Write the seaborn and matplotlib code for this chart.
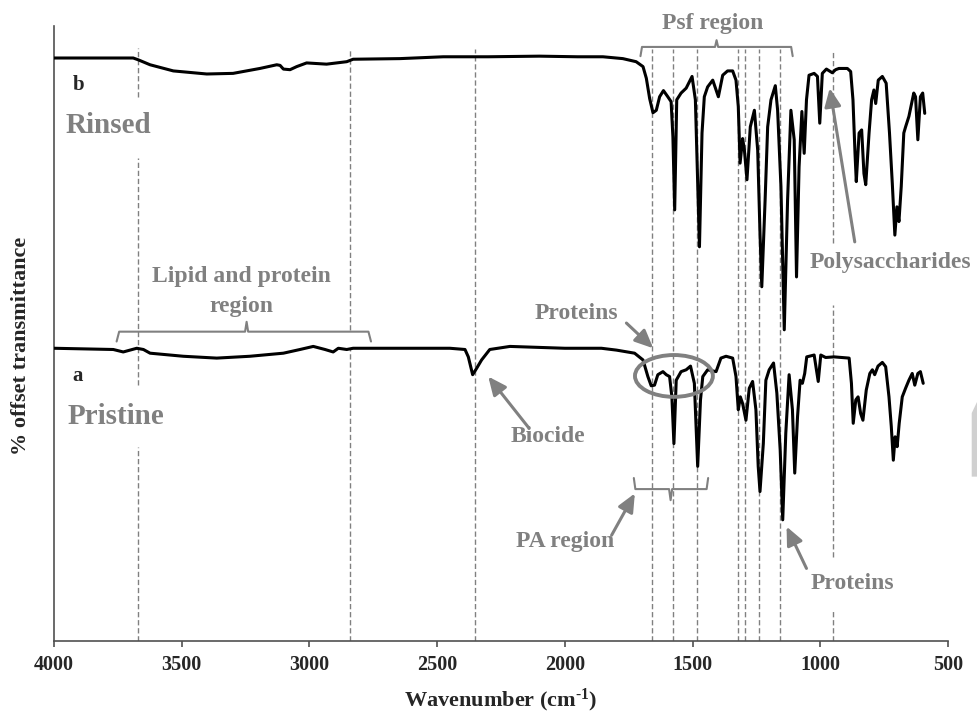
import numpy as np
import pandas as pd
import seaborn as sns
import matplotlib.pyplot as plt
from matplotlib.patches import Ellipse, Polygon

# spectrum b (rinsed membrane), offset transmittance
wn_b = [4000, 3800, 3690, 3670, 3624, 3533, 3402, 3299, 3194, 3128, 3115, 3102, 3076, 3050, 3011,
        2933, 2854, 2829, 2646, 2476, 2300, 2100, 1950, 1851, 1773, 1721, 1694, 1681, 1668,
        1655, 1642, 1629, 1614, 1597, 1584, 1577, 1570, 1562, 1545, 1525, 1502, 1489, 1473,
        1463, 1454, 1441, 1421, 1399, 1382, 1363, 1343, 1330, 1321, 1314, 1304, 1297, 1287,
        1274, 1258, 1245, 1236, 1229, 1216, 1206, 1193, 1176, 1167, 1154, 1141, 1128, 1115,
        1102, 1093, 1083, 1072, 1063, 1054, 1044, 1024, 1011, 1002, 992, 976, 953, 940, 927,
        894, 881, 872, 864, 859, 848, 838, 829, 822, 809, 799, 790, 783, 773, 757, 742, 729,
        718, 708, 700, 692, 683, 673, 666, 653, 634, 627, 618, 608, 599, 591]
t_b = [94.8, 94.8, 94.8, 94.5, 93.7, 92.7, 92.2, 92.3, 93.1, 93.7, 93.6, 93.0, 92.9, 93.4, 94.0,
       93.8, 94.2, 94.6, 94.7, 95.0, 95.0, 95.1, 95.0, 95.0, 94.7, 94.2, 93.4, 91.5, 88.2,
       85.9, 86.3, 88.5, 89.5, 88.5, 87.7, 82.0, 70.1, 88.0, 89.1, 89.9, 91.8, 88.0, 64.1,
       82.6, 88.5, 90.1, 91.2, 88.5, 92.0, 92.7, 92.7, 91.2, 86.9, 77.7, 81.7, 79.8, 75.0,
       83.6, 86.3, 79.8, 66.3, 57.6, 71.7, 83.6, 88.0, 90.3, 86.3, 73.9, 50.6, 71.7, 86.3,
       81.5, 59.2, 77.1, 86.1, 79.3, 88.0, 92.0, 92.3, 91.8, 84.2, 92.3, 93.0, 92.4, 92.9, 93.1,
       93.1, 92.6, 88.0, 79.3, 74.7, 82.6, 83.1, 76.0, 74.2, 82.6, 88.0, 89.6, 87.4, 91.2, 91.8,
       90.7, 82.6, 74.4, 66.0, 70.6, 68.2, 73.9, 82.6, 83.6, 85.3, 89.1, 88.5, 81.5, 88.5,
       89.1, 85.8]

# spectrum a (pristine membrane)
wn_a = [4000, 3768, 3729, 3676, 3650, 3624, 3494, 3363, 3233, 3102, 3037, 2985, 2939, 2907,
        2887, 2854, 2829, 2450, 2391, 2378, 2361, 2346, 2326, 2294, 2215, 2000, 1857, 1798,
        1727, 1694, 1675, 1662, 1649, 1636, 1616, 1603, 1590, 1581, 1573, 1564, 1545, 1525,
        1508, 1493, 1480, 1469, 1460, 1441, 1408, 1389, 1369, 1343, 1330, 1321, 1313, 1304,
        1291, 1278, 1265, 1252, 1243, 1236, 1223, 1213, 1200, 1183, 1170, 1157, 1147, 1135,
        1122, 1109, 1100, 1089, 1079, 1070, 1061, 1053, 1024, 1008, 998, 979, 946, 887, 878,
        871, 861, 852, 842, 833, 820, 806, 796, 787, 774, 757, 744, 731, 722, 714, 707, 699,
        691, 679, 666, 653, 640, 630, 618, 608, 597]
t_a = [47.6, 47.4, 47.0, 47.6, 47.4, 46.8, 46.3, 46.0, 46.3, 46.8, 47.4, 47.9, 47.4, 47.0,
       47.6, 47.4, 47.6, 47.6, 47.4, 46.2, 43.3, 44.3, 45.7, 47.4, 47.9, 47.6, 47.6, 47.3,
       46.8, 45.7, 43.0, 41.5, 41.6, 43.3, 43.8, 43.3, 43.0, 39.7, 32.1, 42.4, 43.8, 44.1,
       44.7, 41.9, 28.4, 39.2, 43.0, 44.1, 43.8, 46.0, 46.3, 46.0, 43.0, 37.6, 39.7, 38.6,
       35.9, 41.1, 42.2, 37.6, 28.4, 24.3, 32.1, 42.4, 44.1, 45.2, 40.3, 31.1, 19.7, 33.8,
       43.3, 37.6, 27.3, 36.5, 42.4, 41.9, 43.5, 46.2, 46.5, 42.2, 46.5, 46.1, 46.2, 46.0, 41.9,
       35.4, 39.2, 39.7, 37.0, 35.9, 40.8, 43.5, 44.1, 43.3, 44.7, 45.3, 44.6, 39.7, 34.9, 29.4,
       33.2, 31.6, 35.4, 39.7, 41.1, 42.4, 43.5, 41.6, 43.5, 43.8, 41.9]

# marked band positions (cm-1)
band_positions = [3670, 2840, 2350, 1658, 1576, 1482, 1324, 1294, 1241, 1159, 950]
x_ticks = [4000, 3500, 3000, 2500, 2000, 1500, 1000, 500]

sns.set_style('ticks')
plt.rcParams['font.family'] = ['Liberation Serif', 'DejaVu Serif']
plt.rcParams['font.weight'] = 'bold'
plt.rcParams['mathtext.fontset'] = 'custom'
plt.rcParams['mathtext.rm'] = 'Liberation Serif:bold'
plt.rcParams['mathtext.bf'] = 'Liberation Serif:bold'
plt.rcParams['mathtext.it'] = 'Liberation Serif:bold'
plt.rcParams['lines.scale_dashes'] = False

gray = '#808080'

fig = plt.figure(figsize=(9.77, 7.13), dpi=100)
ax = fig.add_axes([0.0553, 0.101, 0.915, 0.8625])

df = pd.concat([
    pd.DataFrame({'wn': wn_b, 't': t_b, 'sample': 'Rinsed'}),
    pd.DataFrame({'wn': wn_a, 't': t_a, 'sample': 'Pristine'}),
])

# dashed guide lines (with gaps where labels sit)
segments = {3670: [(88.5, 96.4), (41.6, 78.5), (0, 31.6)],
            2840: [(50.6, 96.3), (0, 47.6)],
            950: [(64.7, 95.8), (13.7, 54.6), (0, 5.0)]}
for b in band_positions:
    for y0, y1 in segments.get(b, [(0, 96.2)]):
        ax.plot([b, b], [y0, y1], color=gray, lw=1, ls=(0, (3.8, 2.0)), zorder=1)

sns.lineplot(data=df, x='wn', y='t', units='sample', estimator=None, sort=False,
             color='black', lw=2.2, ax=ax, zorder=3)

ax.set_xlim(4000, 500)
ax.set_ylim(0, 100)
ax.set_xticks(x_ticks)
ax.set_xticklabels([str(v) for v in x_ticks], fontsize=14.5, fontweight='bold')
ax.set_yticks([])
sns.despine(ax=ax)
for s in ['left', 'bottom']:
    ax.spines[s].set_color('#505050')
    ax.spines[s].set_linewidth(1.2)
ax.tick_params(axis='x', direction='out', length=4, width=1.2, color='#505050', pad=6)

ax.set_xlabel(r'Wavenumber (cm$^{\text{-1}}$)', fontsize=16, fontweight='bold')
ax.xaxis.set_label_coords(0.5, -0.074)
ax.set_ylabel('% offset transmittance', fontsize=16, fontweight='bold')
ax.yaxis.set_label_coords(-0.026, 0.48)

# sample labels
ax.text(3903, 90.4, 'b', fontsize=15, fontweight='bold', ha='center', va='center')
ax.text(3953, 83.9, 'Rinsed', fontsize=21, fontweight='bold', color=gray, ha='left', va='center')
ax.text(3906, 43.1, 'a', fontsize=15, fontweight='bold', ha='center', va='center')
ax.text(3948, 36.5, 'Pristine', fontsize=21, fontweight='bold', color=gray, ha='left', va='center')

# region labels and brackets
ax.text(1423, 100.4, 'Psf region', fontsize=17, fontweight='bold', color=gray, ha='center', va='center')
ax.plot([1704, 1698, 1412, 1406, 1400, 1114, 1108], [95.1, 96.6, 96.6, 97.7, 96.6, 96.6, 95.1],
        color=gray, lw=1.5)
ax.text(3265, 59.3, 'Lipid and protein', fontsize=17, fontweight='bold', color=gray,
        ha='center', va='center')
ax.text(3265, 54.4, 'region', fontsize=17, fontweight='bold', color=gray,
        ha='center', va='center')
ax.plot([3755, 3745, 3252, 3246, 3240, 2769, 2759], [48.7, 50.3, 50.3, 51.9, 50.3, 50.3, 48.7],
        color=gray, lw=1.5)
ax.plot([1730, 1724, 1592, 1586, 1580, 1445, 1439], [26.5, 24.7, 24.7, 22.9, 24.7, 24.7, 26.5],
        color=gray, lw=1.5)
ax.text(2000, 16.1, 'PA region', fontsize=17, fontweight='bold', color=gray, ha='center', va='center')

ax.text(1954, 53.3, 'Proteins', fontsize=17, fontweight='bold', color=gray, ha='center', va='center')
ax.text(2068, 33.2, 'Biocide', fontsize=17, fontweight='bold', color=gray, ha='center', va='center')
ax.text(873, 9.4, 'Proteins', fontsize=17, fontweight='bold', color=gray, ha='center', va='center')
ax.text(724, 61.6, 'Polysaccharides', fontsize=17, fontweight='bold', color=gray, ha='center', va='center')

ax.add_patch(Ellipse((1573, 43.1), width=305, height=6.8, fill=False, edgecolor=gray, lw=2.8, zorder=4))

arrows = [((1759, 51.7), (1654, 47.6)),
          ((2144, 34.8), (2300, 43.0)),
          ((1817, 17.2), (1726, 24.0)),
          ((1054, 11.8), (1132, 18.6)),
          ((865, 64.9), (963, 89.9))]
for tail, head in arrows:
    ax.annotate('', xy=head, xytext=tail,
                arrowprops=dict(arrowstyle='-|>,head_length=1.0,head_width=0.45', color=gray,
                                lw=2.2, shrinkA=0, shrinkB=0, mutation_scale=11), zorder=5)

# faint cropped mark at the right edge of the original image
fig.patches.append(Polygon([(1.0, 0.4362), (0.9946, 0.4207), (0.9946, 0.3315), (1.0, 0.3315)],
                           closed=True, transform=fig.transFigure, facecolor='#d0d0d0',
                           edgecolor='none'))

plt.savefig('out.png', dpi=100)
